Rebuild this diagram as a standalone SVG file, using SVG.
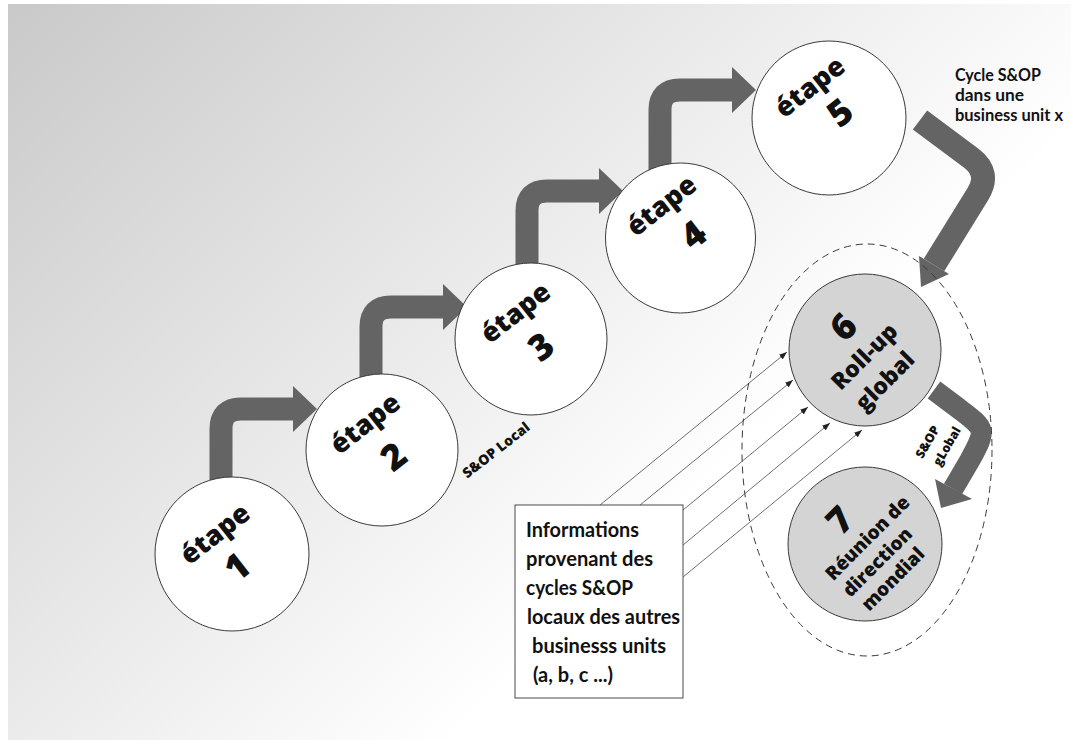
<svg xmlns="http://www.w3.org/2000/svg" xmlns:xlink="http://www.w3.org/1999/xlink" width="1071" height="740" viewBox="0 0 1071 740">
  <style>
    .step { fill: #ffffff; stroke: #3a3a3a; stroke-width: 1; }
    .step-grey { fill: #d4d4d4; stroke: #3a3a3a; stroke-width: 1; }
    .lbl { font-family: "Open Sans", "DejaVu Sans", sans-serif; font-weight: 800; fill: #111111; text-anchor: middle; }
    .word { font-size: 27px; }
    .num { font-size: 36px; }
    .note { font-family: Lato, "Liberation Sans", sans-serif; font-weight: 700; fill: #111111; }
    .band { fill: none; stroke: #646464; stroke-linecap: butt; stroke-linejoin: round; }
    .head { fill: #646464; }
    .feed { stroke: #4a4a4a; stroke-width: 0.8; fill: none; marker-end: url(#tip); }
  </style>
  <defs>
    <linearGradient id="bg" gradientUnits="userSpaceOnUse" x1="8" y1="4" x2="600" y2="600">
      <stop offset="0" stop-color="#c9c9c9"/>
      <stop offset="1" stop-color="#ffffff"/>
    </linearGradient>
    <marker id="tip" viewBox="0 0 8 6" refX="8" refY="3" markerWidth="8" markerHeight="6" markerUnits="userSpaceOnUse" orient="auto">
      <path d="M0,0 L8,3 L0,6 z" fill="#222222"/>
    </marker>
    <!-- elbow arrow: rises from a step and turns right toward the next one -->
    <g id="elbow">
      <path class="band" stroke-width="23" d="M0,90 V20 Q0,0 20,0 H73"/>
      <polygon class="head" points="72,-23 96,0 72,23"/>
    </g>
  </defs>

  <!-- background -->
  <rect x="0" y="0" width="1071" height="740" fill="#ffffff"/>
  <rect x="8" y="4" width="1063" height="736" fill="url(#bg)"/>

  <!-- connectors -->
  <g id="connectors">
    <use xlink:href="#elbow" href="#elbow" transform="translate(221,409)"/>
    <use xlink:href="#elbow" href="#elbow" transform="translate(371,307)"/>
    <use xlink:href="#elbow" href="#elbow" transform="translate(527,191)"/>
    <use xlink:href="#elbow" href="#elbow" transform="translate(660,90)"/>

    <!-- step 5 to roll-up -->
    <path class="band" stroke-width="24" d="M920,120 L971,158 Q991,173 977.75,194.25 L934,265"/>
    <polygon class="head" points="919,256 949,274 921,287"/>

    <!-- roll-up to global meeting -->
    <path class="band" stroke-width="21" d="M934,390 L958,408 C986,429 987,429 970,460 L953,489"/>
    <polygon class="head" points="935,479 972,499 941,508"/>

    <!-- feeds from the other business units -->
    <line class="feed" x1="600" y1="505" x2="787" y2="352"/>
    <line class="feed" x1="640" y1="505" x2="793" y2="380"/>
    <line class="feed" x1="683" y1="510" x2="808" y2="407"/>
    <line class="feed" x1="683" y1="545" x2="830" y2="423"/>
    <line class="feed" x1="683" y1="577" x2="862" y2="430"/>
  </g>

  <!-- steps -->
  <g id="etape-1" transform="translate(232,554)">
    <circle class="step" r="77"/>
    <g transform="rotate(-38)">
      <text class="lbl word" x="-1" y="-17">étape</text>
      <text class="lbl num" x="-4" y="26">1</text>
    </g>
  </g>
  <g id="etape-2" transform="translate(382,450)">
    <circle class="step" r="76"/>
    <g transform="rotate(-38)">
      <text class="lbl word" x="3" y="-22">étape</text>
      <text class="lbl num" x="5" y="25">2</text>
    </g>
  </g>
  <g id="etape-3" transform="translate(531,339)">
    <circle class="step" r="76"/>
    <g transform="rotate(-38)">
      <text class="lbl word" x="4" y="-21">étape</text>
      <text class="lbl num" x="3" y="25">3</text>
    </g>
  </g>
  <g id="etape-4" transform="translate(680.5,238)">
    <circle class="step" r="75"/>
    <g transform="rotate(-38)">
      <text class="lbl word" x="5" y="-28">étape</text>
      <text class="lbl num" x="12" y="18">4</text>
    </g>
  </g>
  <g id="etape-5" transform="translate(829,118)">
    <circle class="step" r="77"/>
    <g transform="rotate(-38)">
      <text class="lbl word" x="4" y="-27">étape</text>
      <text class="lbl num" x="12" y="15">5</text>
    </g>
  </g>

  <g id="rollup" transform="translate(865,350)">
    <circle class="step-grey" r="76"/>
    <g transform="rotate(-45)">
      <text class="lbl num" x="1" y="-19">6</text>
      <text class="lbl" font-size="23" x="-5" y="12">Roll-up</text>
      <text class="lbl" font-size="23" x="-8" y="44">global</text>
    </g>
  </g>
  <g id="meeting" transform="translate(865,544)">
    <circle class="step-grey" r="77"/>
    <g transform="rotate(-45)">
      <text class="lbl num" x="-1" y="-22">7</text>
      <text class="lbl" font-size="19" x="6" y="4">Réunion de</text>
      <text class="lbl" font-size="19" x="-4" y="28">direction</text>
      <text class="lbl" font-size="19" x="-5" y="51">mondial</text>
    </g>
  </g>

  <!-- side labels -->
  <g id="label-local" transform="translate(496,450) rotate(-38)">
    <text class="lbl" font-size="14" x="0" y="5">S&amp;OP Local</text>
  </g>
  <g id="label-global" transform="translate(937,444) rotate(-60)">
    <text class="lbl" font-size="12.5" x="-3" y="-5">S&amp;OP</text>
    <text class="lbl" font-size="12.5" x="3" y="14">gLobal</text>
  </g>
  <g id="label-cycle">
    <text class="note" font-size="16.5" x="955" y="81" textLength="86" lengthAdjust="spacingAndGlyphs">Cycle S&amp;OP</text>
    <text class="note" font-size="16.5" x="955" y="101" textLength="69" lengthAdjust="spacingAndGlyphs">dans une</text>
    <text class="note" font-size="16.5" x="955" y="121" textLength="108" lengthAdjust="spacingAndGlyphs">business unit x</text>
  </g>

  <!-- other business units box -->
  <g id="info-box">
    <rect x="515" y="505" width="168" height="193" fill="#ffffff" stroke="#4a4a4a" stroke-width="1"/>
    <text class="note" font-size="21" x="526" y="537" textLength="113" lengthAdjust="spacingAndGlyphs">Informations</text>
    <text class="note" font-size="21" x="526" y="566" textLength="127" lengthAdjust="spacingAndGlyphs">provenant des</text>
    <text class="note" font-size="21" x="526" y="595" textLength="107" lengthAdjust="spacingAndGlyphs">cycles S&amp;OP</text>
    <text class="note" font-size="21" x="527" y="624" textLength="153" lengthAdjust="spacingAndGlyphs">locaux des autres</text>
    <text class="note" font-size="21" x="532" y="653" textLength="134" lengthAdjust="spacingAndGlyphs">businesss units</text>
    <text class="note" font-size="21" x="533" y="682" textLength="80" lengthAdjust="spacingAndGlyphs">(a, b, c ...)</text>
  </g>

  <!-- global scope boundary -->
  <ellipse id="global-scope" cx="867" cy="450" rx="125" ry="206" fill="none" stroke="#3a3a3a" stroke-width="1" stroke-dasharray="7 5"/>
</svg>
